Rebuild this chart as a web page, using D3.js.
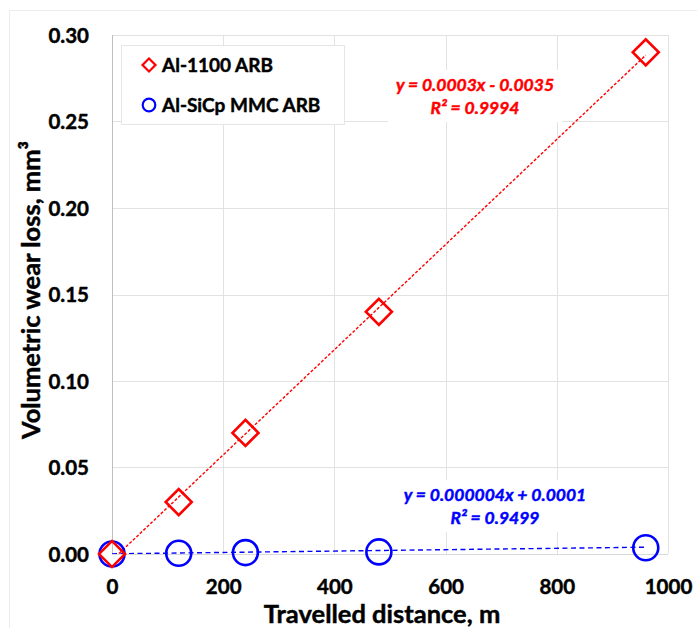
<!DOCTYPE html>
<html>
<head>
<meta charset="utf-8">
<script src="https://cdn.jsdelivr.net/npm/d3@7"></script>
<style>
  html, body { margin: 0; padding: 0; background: #ffffff; }
  svg { display: block; }
  text { font-family: Lato, "Open Sans", sans-serif; font-weight: bold; }
</style>
</head>
<body>
<svg id="chart" width="697" height="628"></svg>
<script>
// Travelled distance (m) at which wear loss was measured
const distance = [0, 120, 240, 480, 960];

// Volumetric wear loss (mm³) for each material
const al1100 = [0, 0.03, 0.07, 0.14, 0.29];
const alSiCp = [0, 0.0004, 0.0008, 0.0012, 0.0036];

const seriesNames = ["Al-1100 ARB", "Al-SiCp MMC ARB"];
const seriesColors = ["#ff0000", "#0000ff"];

// Linear trend lines: slope, intercept
const trendSlope = [0.000304, 0.000004];
const trendIntercept = [-0.0035, 0.0001];
const trendLabels = [
  ["y = 0.0003x - 0.0035", "R² = 0.9994"],
  ["y = 0.000004x + 0.0001", "R² = 0.9499"]
];

// Axis ticks
const xTicks = [0, 200, 400, 600, 800, 1000];
const yTicks = [0, 0.05, 0.10, 0.15, 0.20, 0.25, 0.30];

const svg = d3.select("#chart");

const plot = { left: 112, right: 668, top: 35, bottom: 554 };

const x = d3.scaleLinear().domain([0, 1000]).range([plot.left, plot.right]);
const y = d3.scaleLinear().domain([0, 0.30]).range([plot.bottom, plot.top]);

// Heavier text weight helper
function heavy(sel, color) {
  return sel.attr("fill", color).attr("stroke", color).attr("stroke-width", 0.45);
}

// Chart area outline
svg.append("rect")
  .attr("x", 9.5).attr("y", 10.5)
  .attr("width", 700).attr("height", 640)
  .attr("fill", "#ffffff")
  .attr("stroke", "#ececec").attr("stroke-width", 1);

// Clip region for trend lines
svg.append("clipPath").attr("id", "plotClip")
  .append("rect")
  .attr("x", plot.left).attr("y", plot.top)
  .attr("width", plot.right - plot.left).attr("height", plot.bottom - plot.top);

// Gridlines
const grid = svg.append("g").attr("class", "grid");
grid.selectAll("line.v").data(xTicks.slice(1)).join("line")
  .attr("class", "v")
  .attr("x1", d => Math.round(x(d)) + 0.5).attr("x2", d => Math.round(x(d)) + 0.5)
  .attr("y1", plot.top).attr("y2", plot.bottom)
  .attr("stroke", "#e2e2e2").attr("stroke-width", 1);
grid.selectAll("line.h").data(yTicks.slice(1)).join("line")
  .attr("class", "h")
  .attr("x1", plot.left).attr("x2", plot.right)
  .attr("y1", d => Math.round(y(d)) + 0.5).attr("y2", d => Math.round(y(d)) + 0.5)
  .attr("stroke", "#e2e2e2").attr("stroke-width", 1);

// Bottom axis line (light) and left axis line
svg.append("line")
  .attr("x1", plot.left).attr("x2", plot.right)
  .attr("y1", plot.bottom + 0.5).attr("y2", plot.bottom + 0.5)
  .attr("stroke", "#d9d9d9");
svg.append("line")
  .attr("x1", plot.left + 0.5).attr("x2", plot.left + 0.5)
  .attr("y1", plot.top).attr("y2", plot.bottom)
  .attr("stroke", "#bfbfbf");

// Axes (labels only)
const xAxis = svg.append("g")
  .attr("transform", `translate(0,${plot.bottom})`)
  .call(d3.axisBottom(x).tickValues(xTicks).tickSize(0).tickPadding(0).tickFormat(d3.format("d")));
xAxis.select(".domain").remove();
heavy(xAxis.selectAll("text")
  .attr("y", 33).attr("dy", "0.36em")
  .style("font-size", "20.5px"), "#000");

const yAxis = svg.append("g")
  .attr("transform", `translate(${plot.left},0)`)
  .call(d3.axisLeft(y).tickValues(yTicks).tickSize(0).tickPadding(23).tickFormat(d3.format(".2f")));
yAxis.select(".domain").remove();
heavy(yAxis.selectAll("text")
  .attr("dy", "0.36em")
  .style("font-size", "20.5px"), "#000");

// Trend lines
const trendGroup = svg.append("g").attr("clip-path", "url(#plotClip)");
const trendDash = ["3,1.8", "5,3.5"];
seriesNames.forEach((name, i) => {
  const xs = [0, d3.max(distance)];
  trendGroup.append("path")
    .datum(xs)
    .attr("d", d3.line().x(d => x(d)).y(d => y(trendSlope[i] * d + trendIntercept[i])))
    .attr("fill", "none")
    .attr("stroke", seriesColors[i])
    .attr("stroke-width", 1.4)
    .attr("stroke-dasharray", trendDash[i]);
});

// Markers
const markGroup = svg.append("g");
markGroup.selectAll("circle.sic").data(distance.map((d, i) => [d, alSiCp[i]])).join("circle")
  .attr("class", "sic")
  .attr("cx", d => x(d[0])).attr("cy", d => y(d[1]))
  .attr("r", 12.5)
  .attr("fill", "none").attr("stroke", seriesColors[1]).attr("stroke-width", 2.6);
markGroup.selectAll("rect.al").data(distance.map((d, i) => [d, al1100[i]])).join("rect")
  .attr("class", "al")
  .attr("x", -9.2).attr("y", -9.2).attr("width", 18.4).attr("height", 18.4)
  .attr("transform", d => `translate(${x(d[0])},${y(d[1])}) rotate(45)`)
  .attr("fill", "none").attr("stroke", seriesColors[0]).attr("stroke-width", 2.6);

// Trend equation labels
const labelPos = [[475, 91], [495, 501]];
trendLabels.forEach((lines, i) => {
  const g = svg.append("g");
  const t = heavy(g.append("text")
    .attr("text-anchor", "middle")
    .style("font-style", "italic")
    .style("font-size", "17.5px"), seriesColors[i]);
  lines.forEach((s, k) => {
    t.append("tspan").attr("x", labelPos[i][0]).attr("y", labelPos[i][1] + k * 23).text(s);
  });
  const bb = t.node().getBBox();
  g.insert("rect", "text")
    .attr("x", bb.x - 8).attr("y", bb.y - 4)
    .attr("width", bb.width + 16).attr("height", bb.height + 8)
    .attr("fill", "#ffffff");
});

// Legend
const legend = svg.append("g");
legend.append("rect")
  .attr("x", 121.5).attr("y", 45.5).attr("width", 223).attr("height", 79)
  .attr("fill", "#ffffff").attr("stroke", "#e6e6e6");
const legendY = [65, 105];
seriesNames.forEach((name, i) => {
  if (i === 0) {
    legend.append("rect")
      .attr("x", -4.6).attr("y", -4.6).attr("width", 9.2).attr("height", 9.2)
      .attr("transform", `translate(149,${legendY[i]}) rotate(45)`)
      .attr("fill", "none").attr("stroke", seriesColors[i]).attr("stroke-width", 2.2);
  } else {
    legend.append("circle")
      .attr("cx", 149).attr("cy", legendY[i]).attr("r", 6.3)
      .attr("fill", "none").attr("stroke", seriesColors[i]).attr("stroke-width", 2.2);
  }
  heavy(legend.append("text")
    .attr("x", 162).attr("y", legendY[i]).attr("dy", "0.36em")
    .style("font-size", "19px")
    .text(name), "#000");
});

// Axis titles
heavy(svg.append("text")
  .attr("x", 382).attr("y", 623)
  .attr("text-anchor", "middle")
  .style("font-size", "25.5px")
  .text("Travelled distance, m"), "#000");

heavy(svg.append("text")
  .attr("transform", "translate(40,290) rotate(-90)")
  .attr("text-anchor", "middle")
  .style("font-size", "25.5px")
  .text("Volumetric wear loss, mm³"), "#000");
</script>
</body>
</html>
